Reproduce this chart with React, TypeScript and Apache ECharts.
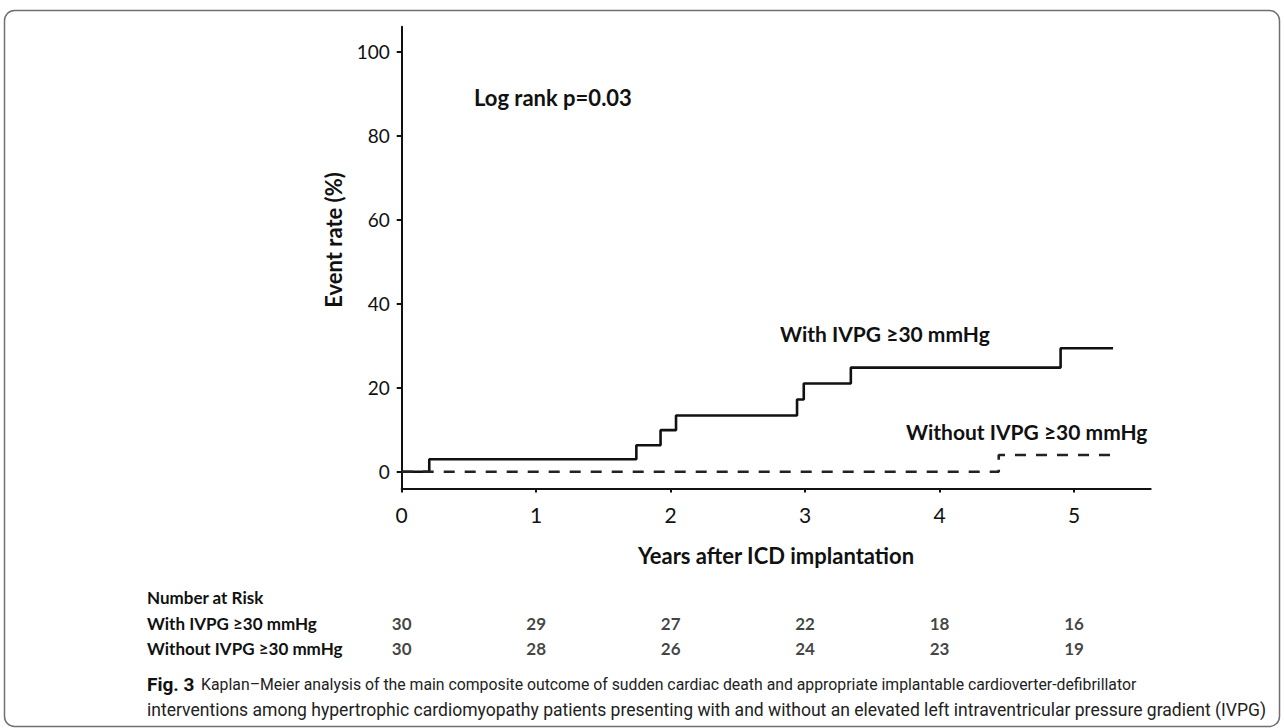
import React, { useEffect, useRef } from "react";
import * as echarts from "echarts";

// Kaplan–Meier step data (years after ICD implantation, event rate %)
const withIvpgTimes = [0, 0.205, 1.745, 1.925, 2.04, 2.94, 2.99, 3.34, 4.9, 5.29];
const withIvpgRates = [0, 2.95, 6.3, 9.9, 13.4, 17.2, 21.0, 24.8, 29.4, 29.4];
const withoutIvpgTimes = [0, 4.44, 5.28];
const withoutIvpgRates = [0, 3.98, 3.98];

const xTicks = [0, 1, 2, 3, 4, 5];
const yTicks = [0, 20, 40, 60, 80, 100];

const riskYears = [0, 1, 2, 3, 4, 5];
const riskWith = [30, 29, 27, 22, 18, 16];
const riskWithout = [30, 28, 26, 24, 23, 19];
const riskRows = ["With IVPG ≥30 mmHg", "Without IVPG ≥30 mmHg"];

const captionLine1 =
  "Kaplan–Meier analysis of the main composite outcome of sudden cardiac death and appropriate implantable cardioverter-defibrillator";
const captionLine2 =
  "interventions among hypertrophic cardiomyopathy patients presenting with and without an elevated left intraventricular pressure gradient (IVPG)";

const FONT = "Lato, 'Noto Sans', sans-serif";
const CAPTION_FONT = "Roboto, sans-serif";
const INK = "#111";

export default function App() {
  const ref = useRef<HTMLDivElement>(null);

  useEffect(() => {
    if (!ref.current) return;
    const chart = echarts.init(ref.current, null, { renderer: "svg" });

    const withData = withIvpgTimes.map((t, i) => [t, withIvpgRates[i]]);
    const withoutData = withoutIvpgTimes.map((t, i) => [t, withoutIvpgRates[i]]);
    const riskData: any[] = [];
    riskYears.forEach((t, i) => {
      riskData.push([t, 0, riskWith[i]]);
      riskData.push([t, 1, riskWithout[i]]);
    });

    const axisLineStyle = { color: INK, width: 2 };
    const boldText = (text: string, x: number, y: number, size: number, extra: any = {}) => ({
      type: "text",
      x,
      y,
      ...extra,
      style: {
        text,
        fontSize: size,
        fontWeight: "bold",
        fontFamily: FONT,
        fill: INK,
        textAlign: extra.align || "left",
        textVerticalAlign: "middle",
      },
    });

    chart.setOption({
      animation: false,
      backgroundColor: "#fff",
      grid: [
        { left: 401.7, top: 26.7, width: 749, height: 461.8 },
        { left: 401.7, top: 611, width: 749, height: 50 },
      ],
      xAxis: [
        {
          gridIndex: 0,
          type: "value",
          min: 0,
          max: 5.57,
          axisLine: { show: true, onZero: false, lineStyle: axisLineStyle },
          axisTick: { show: true, customValues: xTicks, length: 4, lineStyle: axisLineStyle },
          axisLabel: {
            customValues: xTicks,
            margin: 15,
            fontSize: 21,
            fontFamily: FONT,
            color: INK,
          },
          splitLine: { show: false },
        },
        { gridIndex: 1, type: "value", min: 0, max: 5.57, show: false },
      ],
      yAxis: [
        {
          gridIndex: 0,
          type: "value",
          min: -4,
          max: 106,
          axisLine: { show: true, onZero: false, lineStyle: axisLineStyle },
          axisTick: { show: true, customValues: yTicks, length: 5, lineStyle: axisLineStyle },
          axisLabel: {
            customValues: yTicks,
            margin: 12,
            fontSize: 19,
            fontFamily: FONT,
            color: INK,
          },
          splitLine: { show: false },
        },
        {
          gridIndex: 1,
          type: "category",
          data: riskRows,
          inverse: true,
          show: false,
        },
      ],
      series: [
        {
          name: "With IVPG ≥30 mmHg",
          type: "line",
          xAxisIndex: 0,
          yAxisIndex: 0,
          step: "end",
          symbol: "none",
          data: withData,
          lineStyle: { color: INK, width: 2.6 },
        },
        {
          name: "Without IVPG ≥30 mmHg",
          type: "line",
          xAxisIndex: 0,
          yAxisIndex: 0,
          step: "end",
          symbol: "none",
          data: withoutData,
          lineStyle: { color: "#222", width: 2.6, type: [11, 10] },
        },
        {
          name: "Number at risk",
          type: "scatter",
          xAxisIndex: 1,
          yAxisIndex: 1,
          symbolSize: 1,
          silent: true,
          itemStyle: { color: "rgba(0,0,0,0)" },
          data: riskData,
          label: {
            show: true,
            position: "inside",
            formatter: (p: any) => String(p.value[2]),
            fontSize: 17,
            fontWeight: "bold",
            fontFamily: FONT,
            color: INK,
          },
        },
      ],
      graphic: [
        {
          type: "rect",
          shape: { x: 4.5, y: 10.5, width: 1275, height: 716, r: 10 },
          style: { fill: "none", stroke: "#707070", lineWidth: 1.5 },
          silent: true,
        },
        boldText("Log rank p=0.03", 474, 97, 22),
        boldText("With IVPG ≥30 mmHg", 780, 333, 21),
        boldText("Without IVPG ≥30 mmHg", 906, 431, 21),
        boldText("Event rate (%)", 333, 240, 22, { rotation: Math.PI / 2, align: "center" }),
        boldText("Years after ICD implantation", 776, 555, 22, { align: "center" }),
        boldText("Number at Risk", 147, 597, 17),
        boldText(riskRows[0], 147, 623.5, 17),
        boldText(riskRows[1], 147, 648.5, 17),
        {
          type: "text",
          x: 147,
          y: 684,
          style: {
            text: "{b|Fig. 3}  {n|" + captionLine1 + "}",
            textAlign: "left",
            textVerticalAlign: "middle",
            rich: {
              b: { fontSize: 19, fontWeight: "bold", fontFamily: CAPTION_FONT, fill: "#111", color: "#111" },
              n: { fontSize: 15.8, fontFamily: CAPTION_FONT, fill: "#222", color: "#222" },
            },
          },
        },
        {
          type: "text",
          x: 147,
          y: 710,
          style: {
            text: captionLine2,
            fontSize: 17.55,
            fontFamily: CAPTION_FONT,
            fill: "#222",
            textAlign: "left",
            textVerticalAlign: "middle",
          },
        },
      ],
    });

    return () => chart.dispose();
  }, []);

  return (
    <div
      ref={ref}
      style={{ position: "fixed", left: 0, top: 0, width: 1284, height: 728 }}
    />
  );
}
